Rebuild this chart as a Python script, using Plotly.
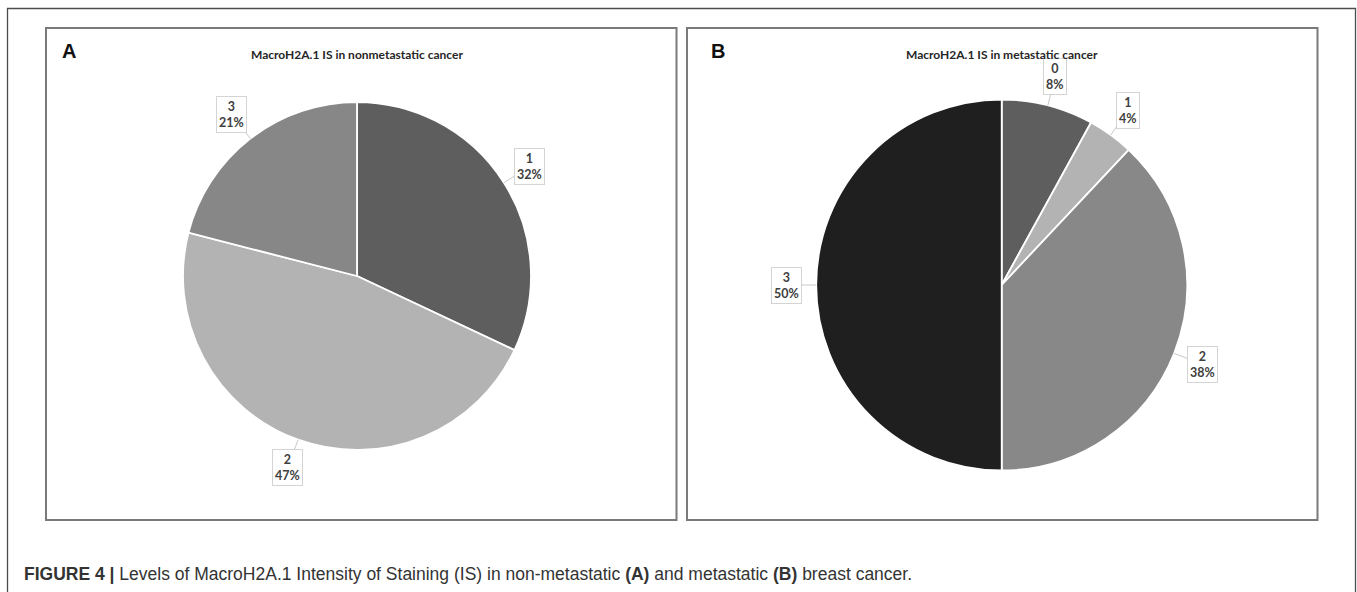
import math
import plotly.graph_objects as go

# ---- data -------------------------------------------------------------
levels_a = ["1", "2", "3"]
share_a = [32, 47, 21]          # % of nonmetastatic cases per IS level
colors_a = ["#5e5e5e", "#b3b3b3", "#878787"]

levels_b = ["0", "1", "2", "3"]
share_b = [8, 4, 38, 50]        # % of metastatic cases per IS level
colors_b = ["#5e5e5e", "#b3b3b3", "#888888", "#1f1f1f"]

title_a = "MacroH2A.1 IS in nonmetastatic cancer"
title_b = "MacroH2A.1 IS in metastatic cancer"
caption = ("<b>FIGURE 4 |</b> Levels of MacroH2A.1 Intensity of Staining (IS) in "
           "non-metastatic <b>(A)</b> and metastatic <b>(B)</b> breast cancer.")

# ---- canvas -----------------------------------------------------------
W, H = 1357, 592


def px(x):
    return x / W


def py(y):
    return 1 - y / H


# pie geometry (pixel centre and radius)
pies = [
    dict(cx=357.0, cy=276.0, r=174.0, levels=levels_a, share=share_a,
         colors=colors_a, title=title_a, tag="A", tag_x=69, label_gap=30),
    dict(cx=1001.7, cy=285.0, r=185.5, levels=levels_b, share=share_b,
         colors=colors_b, title=title_b, tag="B", tag_x=718, label_gap=30),
]

fig = go.Figure()
annotations = []

label_font = dict(family="Lato, 'Open Sans', sans-serif", size=12.5, color="#404040")

for p in pies:
    cx, cy, r = p["cx"], p["cy"], p["r"]
    fig.add_trace(go.Pie(
        labels=p["levels"], values=p["share"], sort=False,
        direction="clockwise", rotation=0,
        marker=dict(colors=p["colors"], line=dict(color="white", width=1.8)),
        textinfo="none", hoverinfo="label+percent", showlegend=False,
        domain=dict(x=[px(cx - r), px(cx + r)], y=[py(cy + r), py(cy - r)]),
    ))

    # callout labels with leader lines, placed at each slice's mid-angle
    total = sum(p["share"])
    cum = 0
    for lev, val in zip(p["levels"], p["share"]):
        mid = (cum + val / 2) / total * 2 * math.pi
        cum += val
        tip_x = cx + r * math.sin(mid)
        tip_y = cy - r * math.cos(mid)
        R = r + p["label_gap"]
        box_x = cx + R * math.sin(mid)
        box_y = cy - R * math.cos(mid)
        annotations.append(dict(
            x=px(tip_x), y=py(tip_y), xref="paper", yref="paper",
            ax=box_x - tip_x, ay=box_y - tip_y,
            text=f"<b>{lev}</b><br><b>{round(val / total * 100)}%</b>",
            showarrow=True, arrowhead=0, arrowwidth=1, arrowcolor="#c9c9c9",
            standoff=0, startstandoff=0,
            font=label_font, align="center",
            bordercolor="#d4d4d4", borderwidth=1, borderpad=2, bgcolor="white",
        ))

    # chart title and panel letter
    annotations.append(dict(
        x=px(cx), y=py(54.5), xref="paper", yref="paper",
        text=f"<b>{p['title']}</b>", showarrow=False,
        xanchor="center", yanchor="middle",
        font=dict(family="Lato, sans-serif", size=12, color="#262626"),
    ))
    annotations.append(dict(
        x=px(p["tag_x"]), y=py(50.5), xref="paper", yref="paper",
        text=f"<b>{p['tag']}</b>", showarrow=False,
        xanchor="center", yanchor="middle",
        font=dict(family="Liberation Sans, Arial, sans-serif", size=20, color="#111111"),
    ))

# figure caption
annotations.append(dict(
    x=px(22), y=py(573.5), xref="paper", yref="paper",
    text=caption, showarrow=False, xanchor="left", yanchor="middle",
    font=dict(family="Liberation Sans, Arial, sans-serif", size=17.5, color="#333333"),
))

# outer figure frame (open at the bottom) and the two panel frames
shapes = [
    dict(type="path", xref="paper", yref="paper",
         path=f"M {px(7.5)},{py(600)} L {px(7.5)},{py(8.5)} "
              f"L {px(1355.5)},{py(8.5)} L {px(1355.5)},{py(600)}",
         line=dict(color="#4d4d4d", width=1.3)),
    dict(type="rect", xref="paper", yref="paper",
         x0=px(46), x1=px(676.5), y0=py(520), y1=py(28),
         line=dict(color="#7a7a7a", width=2)),
    dict(type="rect", xref="paper", yref="paper",
         x0=px(687), x1=px(1317.5), y0=py(520), y1=py(28),
         line=dict(color="#7a7a7a", width=2)),
]

fig.update_layout(
    width=W, height=H,
    margin=dict(l=0, r=0, t=0, b=0),
    paper_bgcolor="white", plot_bgcolor="white",
    annotations=annotations, shapes=shapes,
)

fig.write_html("out.html")
